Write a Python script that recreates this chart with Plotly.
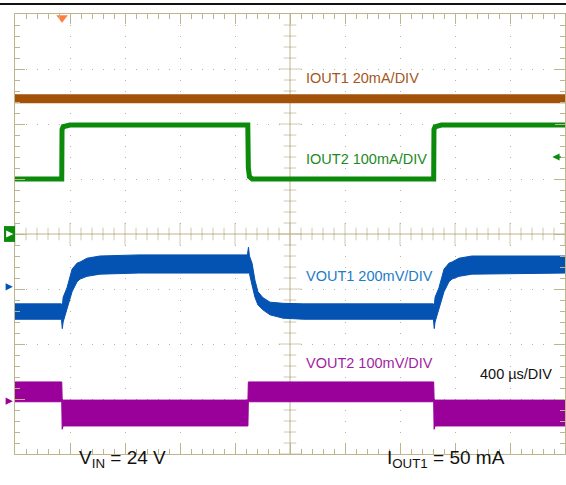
import numpy as np
import plotly.graph_objects as go

# time axis in microseconds (400 us/div), vertical axis in divisions
t_iout1 = [0, 4000]
v_iout1 = [2.46, 2.46]

t_iout2 = [0, 340, 342, 350, 400, 1693, 1697, 1705, 1725, 3045, 3047, 3055, 3100, 4000]
v_iout2 = [1.0, 1.0, 1.9, 1.95, 1.98, 1.98, 1.2, 1.04, 1.0, 1.0, 1.9, 1.95, 1.98, 1.98]

t_vout1 = [0, 338, 344, 350, 378, 415, 451, 473, 524, 618, 900, 1690, 1698, 1705, 1724,
           1745, 1767, 1804, 1855, 1949, 2100, 3043, 3049, 3055, 3083, 3120, 3156, 3178,
           3229, 3323, 4000]
vout1_hi = [-1.27, -1.27, -1.33, -1.15, -0.98, -0.64, -0.53, -0.51, -0.44, -0.40, -0.38,
            -0.38, -0.24, -0.40, -0.53, -0.84, -1.05, -1.16, -1.24, -1.26, -1.27, -1.27,
            -1.33, -1.15, -0.98, -0.64, -0.53, -0.51, -0.44, -0.40, -0.40]
vout1_lo = [-1.55, -1.55, -1.72, -1.60, -1.38, -1.05, -0.87, -0.82, -0.77, -0.73, -0.71,
            -0.71, -0.71, -0.72, -0.93, -1.15, -1.29, -1.38, -1.47, -1.53, -1.55, -1.55,
            -1.72, -1.60, -1.38, -1.05, -0.87, -0.82, -0.77, -0.73, -0.71]

t_vout2 = [0, 340, 343, 350, 1694, 1697, 3045, 3048, 3055, 4000]
vout2_hi = [-2.69, -2.69, -3.0, -3.02, -3.02, -2.69, -2.69, -3.0, -3.02, -3.02]
vout2_lo = [-3.05, -3.05, -3.55, -3.49, -3.49, -3.05, -3.05, -3.55, -3.49, -3.49]

labels = ['IOUT1 20mA/DIV', 'IOUT2 100mA/DIV', 'VOUT1 200mV/DIV', 'VOUT2 100mV/DIV']
label_y = [2.84, 1.36, -0.76, -2.35]
label_colors = ['#A5561C', '#1E8A1E', '#1C7CC8', '#A21FA2']

GRAT = '#BEB58F'
FONT = 'Liberation Sans, Arial, sans-serif'


def band(t, hi, lo, color, name):
    return go.Scatter(
        x=list(t) + list(t)[::-1],
        y=list(hi) + list(lo)[::-1],
        fill='toself', fillcolor=color,
        line=dict(color=color, width=1),
        mode='lines', hoverinfo='skip', name=name
    )


def marker_arrow(x, y, ax, color, xref='paper', yref='y'):
    # small channel-level arrow, drawn as an annotation arrow with no text
    fig.add_annotation(xref=xref, yref=yref, x=x, y=y, ax=ax, ay=0, text='',
                       showarrow=True, arrowhead=2, arrowsize=0.9, arrowwidth=1.6,
                       arrowcolor=color)


fig = go.Figure()

# center cross ticks of the graticule
tx = np.arange(0, 4001, 80)
ty = np.arange(-4, 4.001, 0.2)
fig.add_trace(go.Scatter(
    x=tx, y=np.zeros_like(tx, dtype=float), mode='markers', hoverinfo='skip',
    marker=dict(symbol='line-ns', size=[16 if v % 400 == 0 else 9 for v in tx],
                line=dict(color=GRAT, width=1))
))
fig.add_trace(go.Scatter(
    x=np.full_like(ty, 2000), y=ty, mode='markers', hoverinfo='skip',
    marker=dict(symbol='line-ew',
                size=[16 if abs(v - round(v)) < 1e-6 else 9 for v in ty],
                line=dict(color=GRAT, width=1))
))

# waveforms
fig.add_trace(go.Scatter(x=t_iout1, y=v_iout1, mode='lines', hoverinfo='skip',
                         line=dict(color='#A3520A', width=9), name='IOUT1'))
fig.add_trace(go.Scatter(x=t_iout2, y=v_iout2, mode='lines', hoverinfo='skip',
                         line=dict(color='#0C8A0C', width=5), name='IOUT2'))
fig.add_trace(band(t_vout1, vout1_hi, vout1_lo, '#0452B2', 'VOUT1'))
fig.add_trace(band(t_vout2, vout2_hi, vout2_lo, '#9A009A', 'VOUT2'))

# trigger marker
fig.add_trace(go.Scatter(x=[342], y=[3.93], mode='markers', hoverinfo='skip', cliponaxis=False,
                         marker=dict(symbol='triangle-down', size=10, color='#FF7F3A')))

for txt, y, c in zip(labels, label_y, label_colors):
    fig.add_annotation(x=2102, y=y, text=txt, showarrow=False, xanchor='left',
                       font=dict(family=FONT, size=14.5, color=c))
fig.add_annotation(x=3367, y=-2.55, text='400 \u00b5s/DIV', showarrow=False, xanchor='left',
                   font=dict(family=FONT, size=14.5, color='#111111'))

# conditions under the screen
fig.add_annotation(xref='paper', yref='paper', x=0.113, y=-0.043, text='V<sub>IN</sub> = 24 V',
                   showarrow=False, xanchor='left', font=dict(family=FONT, size=19, color='#111111'))
fig.add_annotation(xref='paper', yref='paper', x=0.673, y=-0.043, text='I<sub>OUT1</sub> = 50 mA',
                   showarrow=False, xanchor='left', font=dict(family=FONT, size=19, color='#111111'))

# channel markers
fig.add_shape(type='rect', xref='paper', yref='paper', x0=-0.02, x1=0, y0=0.482, y1=0.518,
              fillcolor='#0C8A0C', line=dict(width=0))
marker_arrow(-0.003, 0, -7, 'white')
marker_arrow(-0.004, -0.96, -8, '#0452B2')
marker_arrow(-0.004, -3.04, -8, '#9A009A')
marker_arrow(0.977, 1.4, 10, '#0C8A0C')

# graticule center lines and top rule
fig.add_shape(type='line', x0=0, x1=4000, y0=0, y1=0, layer='below', line=dict(color=GRAT, width=1))
fig.add_shape(type='line', x0=2000, x1=2000, y0=-4, y1=4, layer='below', line=dict(color=GRAT, width=1))
fig.add_shape(type='line', xref='paper', yref='paper', x0=-0.03, x1=1.01, y0=1.0227, y1=1.0227,
              line=dict(color='#111111', width=2))

axis_common = dict(
    showline=True, linecolor=GRAT, linewidth=1, mirror='ticks',
    ticks='inside', ticklen=10, tickcolor=GRAT, tickwidth=1,
    showticklabels=False, zeroline=False,
    showgrid=True, gridcolor=GRAT, gridwidth=1, griddash='1px,10px',
)
fig.update_xaxes(range=[0, 4000], dtick=400, tick0=0,
                 minor=dict(dtick=80, ticklen=5, tickcolor=GRAT, ticks='inside', showgrid=False),
                 **axis_common)
fig.update_yaxes(range=[-4, 4], dtick=1, tick0=0,
                 minor=dict(dtick=0.2, ticklen=5, tickcolor=GRAT, ticks='inside', showgrid=False),
                 **axis_common)

fig.update_layout(
    width=566, height=485,
    margin=dict(l=15, r=1, t=14, b=31, pad=0),
    plot_bgcolor='white', paper_bgcolor='white',
    showlegend=False,
    font=dict(family=FONT, size=12, color='#111111'),
)

# drop the default page margin so the figure sits at the window's top-left corner
fig.write_html("out.html", config={'displayModeBar': False},
               post_script="document.body.style.margin='0';")
